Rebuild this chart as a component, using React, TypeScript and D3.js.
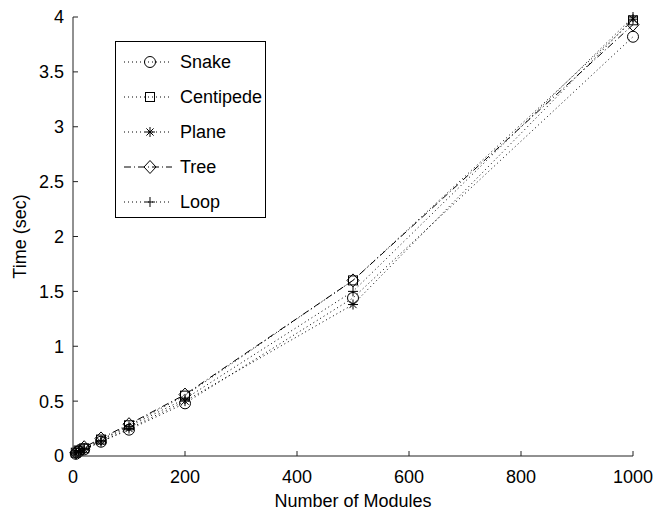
import { useEffect, useRef } from 'react'
import * as d3 from 'd3'

const modules = [5, 10, 20, 50, 100, 200, 500, 1000]
const snake = [0.02, 0.04, 0.06, 0.13, 0.24, 0.48, 1.44, 3.82]
const centipede = [0.03, 0.05, 0.07, 0.15, 0.28, 0.55, 1.6, 3.97]
const plane = [0.02, 0.04, 0.06, 0.13, 0.25, 0.5, 1.38, 3.98]
const tree = [0.03, 0.05, 0.08, 0.16, 0.29, 0.56, 1.6, 3.93]
const loop = [0.03, 0.05, 0.07, 0.14, 0.27, 0.52, 1.5, 4.0]

const seriesNames = ['Snake', 'Centipede', 'Plane', 'Tree', 'Loop']
const xTicks = [0, 200, 400, 600, 800, 1000]
const yTicks = [0, 0.5, 1, 1.5, 2, 2.5, 3, 3.5, 4]

const width = 660
const height = 511
const margin = { left: 73, right: 27, top: 17, bottom: 55 }
const FONT = 'Liberation Sans, Arial, Helvetica, sans-serif'

const series = [
  { name: seriesNames[0], values: snake, marker: 'circle', dash: '1,3' },
  { name: seriesNames[1], values: centipede, marker: 'square', dash: '1,3' },
  { name: seriesNames[2], values: plane, marker: 'star', dash: '1,3' },
  { name: seriesNames[3], values: tree, marker: 'diamond', dash: '7,3,1,3' },
  { name: seriesNames[4], values: loop, marker: 'plus', dash: '1,3' },
]

function drawMarker(g: any, kind: string, x: number, y: number) {
  const s = 5
  const m = g.append('g').attr('transform', `translate(${x},${y})`)
  const apply = (sel: any) => sel.attr('fill', 'none').attr('stroke', '#000').attr('stroke-width', 1)
  if (kind === 'circle') apply(m.append('circle').attr('r', s + 0.5))
  if (kind === 'square')
    apply(m.append('rect').attr('x', -s + 0.5).attr('y', -s + 0.5).attr('width', 2 * s - 1).attr('height', 2 * s - 1))
  if (kind === 'diamond')
    apply(m.append('path').attr('d', `M0,${-s - 1.5}L${s + 1},0L0,${s + 1.5}L${-s - 1},0Z`))
  if (kind === 'plus' || kind === 'star') {
    apply(m.append('path').attr('d', `M${-s},0H${s}M0,${-s}V${s}`))
  }
  if (kind === 'star') {
    const d = s * 0.72
    apply(m.append('path').attr('d', `M${-d},${-d}L${d},${d}M${-d},${d}L${d},${-d}`))
  }
}

function App() {
  const ref = useRef<SVGSVGElement>(null)

  useEffect(() => {
    const svg = d3.select(ref.current)
    svg.selectAll('*').remove()

    const xScale = d3.scaleLinear().domain([0, 1000]).range([margin.left, width - margin.right])
    const yScale = d3.scaleLinear().domain([0, 4]).range([height - margin.bottom, margin.top])

    const line = d3
      .line<number>()
      .x((_d, i) => xScale(modules[i]))
      .y((d) => yScale(d))

    // series lines
    series.forEach((s) => {
      svg
        .append('path')
        .datum(s.values)
        .attr('fill', 'none')
        .attr('stroke', '#000')
        .attr('stroke-width', 1)
        .attr('stroke-dasharray', s.dash)
        .attr('d', line)
    })

    // markers
    series.forEach((s) => {
      const g = svg.append('g')
      s.values.forEach((v, i) => drawMarker(g, s.marker, xScale(modules[i]), yScale(v)))
    })

    // axes (box off, ticks inward)
    const axisColor = '#222'
    const x0 = xScale(0)
    const y0 = yScale(0)
    svg
      .append('path')
      .attr('d', `M${x0},${yScale(4)}V${y0}H${xScale(1000)}`)
      .attr('fill', 'none')
      .attr('stroke', axisColor)
      .attr('stroke-width', 1)

    yTicks.forEach((t) => {
      svg
        .append('line')
        .attr('x1', x0)
        .attr('x2', x0 + 5)
        .attr('y1', yScale(t))
        .attr('y2', yScale(t))
        .attr('stroke', axisColor)
      svg
        .append('text')
        .attr('x', x0 - 9)
        .attr('y', yScale(t))
        .attr('dy', '0.36em')
        .attr('text-anchor', 'end')
        .attr('font-family', FONT)
        .attr('font-size', 18)
        .text(String(t))
    })

    xTicks.forEach((t) => {
      svg
        .append('line')
        .attr('x1', xScale(t))
        .attr('x2', xScale(t))
        .attr('y1', y0)
        .attr('y2', y0 - 5)
        .attr('stroke', axisColor)
      svg
        .append('text')
        .attr('x', xScale(t))
        .attr('y', y0 + 21)
        .attr('dy', '0.36em')
        .attr('text-anchor', 'middle')
        .attr('font-family', FONT)
        .attr('font-size', 18)
        .text(String(t))
    })

    svg
      .append('text')
      .attr('x', (xScale(0) + xScale(1000)) / 2)
      .attr('y', 507)
      .attr('text-anchor', 'middle')
      .attr('font-family', FONT)
      .attr('font-size', 18)
      .text('Number of Modules')

    svg
      .append('text')
      .attr('transform', `translate(26,${yScale(2)}) rotate(-90)`)
      .attr('text-anchor', 'middle')
      .attr('font-family', FONT)
      .attr('font-size', 18)
      .text('Time (sec)')

    // legend
    const lg = svg.append('g')
    lg.append('rect')
      .attr('x', 115.5)
      .attr('y', 41.5)
      .attr('width', 150)
      .attr('height', 176)
      .attr('fill', '#fff')
      .attr('stroke', '#000')
    series.forEach((s, i) => {
      const y = 62 + i * 35
      lg.append('line')
        .attr('x1', 124)
        .attr('x2', 172)
        .attr('y1', y)
        .attr('y2', y)
        .attr('stroke', '#000')
        .attr('stroke-dasharray', s.dash)
      drawMarker(lg, s.marker, 150, y)
      lg.append('text')
        .attr('x', 180)
        .attr('y', y)
        .attr('dy', '0.36em')
        .attr('font-family', FONT)
        .attr('font-size', 18)
        .text(s.name)
    })
  }, [])

  return (
    <div style={{ position: 'absolute', left: 0, top: 0 }}>
      <svg ref={ref} width={width} height={height} style={{ display: 'block', background: '#fff' }} />
    </div>
  )
}

export default App
